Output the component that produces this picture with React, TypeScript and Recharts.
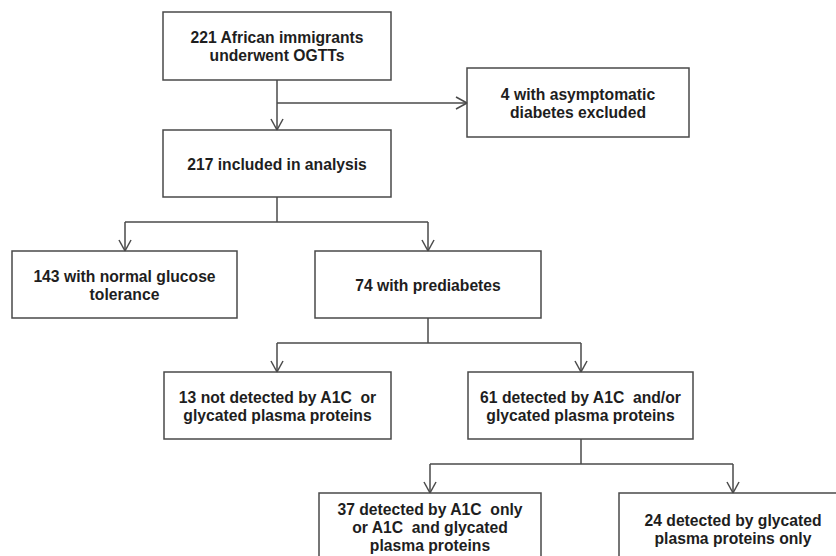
import React from "react";
import { ComposedChart, XAxis, YAxis, ReferenceArea, ReferenceLine } from "recharts";

// ---- Data: flow counts and their descriptions ----
const counts = [221, 4, 217, 143, 74, 13, 61, 37, 24];
const descriptions = [
  ["African immigrants", "underwent OGTTs"],
  ["with asymptomatic", "diabetes excluded"],
  ["included in analysis"],
  ["with normal glucose", "tolerance"],
  ["with prediabetes"],
  ["not detected by A1C  or", "glycated plasma proteins"],
  ["detected by A1C  and/or", "glycated plasma proteins"],
  ["detected by A1C  only", "or A1C  and glycated", "plasma proteins"],
  ["detected by glycated", "plasma proteins only"],
];

// ---- Layout (chart coordinates, y grows downward) ----
const W = 836;
const H = 556;
const boxes = [
  { x1: 163, x2: 391, y1: 12, y2: 80 },
  { x1: 467, x2: 689, y1: 68, y2: 137 },
  { x1: 163, x2: 391, y1: 130, y2: 197 },
  { x1: 12, x2: 237, y1: 251, y2: 318 },
  { x1: 315, x2: 541, y1: 251, y2: 318 },
  { x1: 164, x2: 391, y1: 372, y2: 439 },
  { x1: 468, x2: 693, y1: 372, y2: 439 },
  { x1: 319, x2: 541, y1: 493, y2: 561 },
  { x1: 619, x2: 847, y1: 493, y2: 565 },
];

type Seg = [number, number, number, number];
const segments: Seg[] = [
  [277, 80, 277, 130],
  [277, 103, 467, 103],
  [277, 197, 277, 222],
  [125, 222, 428, 222],
  [125, 222, 125, 251],
  [428, 222, 428, 251],
  [428, 318, 428, 343],
  [277, 343, 581, 343],
  [277, 343, 277, 372],
  [581, 343, 581, 372],
  [581, 439, 581, 464],
  [430, 464, 733, 464],
  [430, 464, 430, 493],
  [733, 464, 733, 493],
];
// arrow tips: [x, y, direction]
const arrows: [number, number, "down" | "right"][] = [
  [277, 130, "down"],
  [467, 103, "right"],
  [125, 251, "down"],
  [428, 251, "down"],
  [277, 372, "down"],
  [581, 372, "down"],
  [430, 493, "down"],
  [733, 493, "down"],
];

const LINE = "#4a4a4a";
const TEXT = "#1e1e1e";
const FONT_SIZE = 15.7;
const LINE_H = 18;

function BoxLabel(props: any) {
  const { viewBox, lines } = props;
  if (!viewBox) return null;
  const { x, y, width, height } = viewBox;
  const cx = x + width / 2;
  const cy = y + height / 2;
  const n = lines.length;
  const startY = cy - ((n - 1) * LINE_H) / 2;
  return (
    <text
      x={cx}
      y={startY}
      textAnchor="middle"
      dominantBaseline="central"
      fontFamily="'Liberation Sans', Arial, sans-serif"
      fontWeight="bold"
      fontSize={FONT_SIZE}
      fill={TEXT}
      style={{ whiteSpace: "pre" }}
    >
      {lines.map((l: string, i: number) => (
        <tspan key={i} x={cx} y={startY + i * LINE_H}>
          {l}
        </tspan>
      ))}
    </text>
  );
}

function arrowSegs(x: number, y: number, dir: "down" | "right"): Seg[] {
  if (dir === "down") {
    return [
      [x - 6, y - 11, x, y],
      [x + 6, y - 11, x, y],
    ];
  }
  return [
    [x - 11, y - 6, x, y],
    [x - 11, y + 6, x, y],
  ];
}

export default function App() {
  const allSegs: Seg[] = [
    ...segments,
    ...arrows.flatMap(([x, y, d]) => arrowSegs(x, y, d)),
  ];
  return (
    <div style={{ position: "absolute", left: 0, top: 0, background: "#fff" }}>
      <ComposedChart
        width={W}
        height={H}
        data={[]}
        margin={{ top: 0, right: 0, bottom: 0, left: 0 }}
      >
        <XAxis type="number" dataKey="x" domain={[0, W]} allowDataOverflow hide />
        <YAxis type="number" dataKey="y" domain={[0, H]} allowDataOverflow reversed hide />
        {allSegs.map((s, i) => (
          <ReferenceLine
            key={"s" + i}
            segment={[
              { x: s[0], y: s[1] },
              { x: s[2], y: s[3] },
            ]}
            stroke={LINE}
            strokeWidth={1.5}
            ifOverflow="visible"
          />
        ))}
        {boxes.map((b, i) => (
          <ReferenceArea
            key={"b" + i}
            x1={b.x1}
            x2={b.x2}
            y1={b.y1}
            y2={b.y2}
            fill="#ffffff"
            fillOpacity={1}
            stroke={LINE}
            strokeWidth={1.5}
            ifOverflow="hidden"
            label={<BoxLabel lines={[`${counts[i]} ${descriptions[i][0]}`, ...descriptions[i].slice(1)]} />}
          />
        ))}
      </ComposedChart>
    </div>
  );
}
